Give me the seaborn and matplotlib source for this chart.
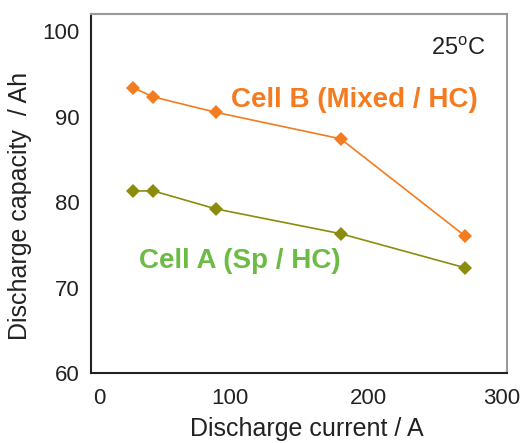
import matplotlib
matplotlib.use("Agg")
import matplotlib.pyplot as plt
import matplotlib.transforms as mtransforms
import seaborn as sns
import pandas as pd

current = [30, 45, 90, 180, 270]
cell_a = [81.3, 81.3, 79.2, 76.3, 72.3]
cell_b = [93.4, 92.3, 90.5, 87.4, 76.0]
series = ["Cell A (Sp / HC)", "Cell B (Mixed / HC)"]
x_ticks = [0, 100, 200, 300]
x_minor = [50, 150, 250]
y_ticks = [60, 70, 80, 90, 100]

sns.set_theme(style="white")
plt.rcParams['font.family'] = ['Liberation Sans', 'DejaVu Sans']

df = pd.DataFrame({
    "current": current * 2,
    "capacity": cell_a + cell_b,
    "cell": [series[0]] * len(current) + [series[1]] * len(current),
})

line_colors = {series[0]: "#8C8C0C", series[1]: "#F47B20"}
text_colors = {series[0]: "#6CBB45", series[1]: "#F47B20"}

fig = plt.figure(figsize=(5.22, 4.43), dpi=100)
ax = fig.add_axes([91/522, 1-373/443, (507-91)/522, (373-14)/443])

sns.lineplot(data=df, x="current", y="capacity", hue="cell", palette=line_colors,
             marker="D", markersize=7, markeredgewidth=0, linewidth=1.2,
             legend=False, ax=ax)

ax.set_xlim(0, 300)
ax.set_ylim(60, 102)
ax.set_xticks(x_ticks)
ax.set_xticks(x_minor, minor=True)
ax.set_yticks(y_ticks)
ax.tick_params(axis="both", which="both", direction="in", length=5, width=1.2,
               color="#333333", labelsize=16, labelcolor="#222222")
ax.tick_params(axis="x", pad=11)
ax.tick_params(axis="y", pad=8)

# nudge first/last x tick labels as in the reference
labels = ax.get_xticklabels()
offsets = [0.08, 0.0, 0.0, -0.05]
for lab, dx in zip(labels, offsets):
    lab.set_transform(lab.get_transform() +
                      mtransforms.ScaledTranslation(dx, 0, fig.dpi_scale_trans))

for s in ["left", "bottom"]:
    ax.spines[s].set_color("#222222")
    ax.spines[s].set_linewidth(1.5)
for s in ["top", "right"]:
    ax.spines[s].set_color("#999999")
    ax.spines[s].set_linewidth(1.5)

ax.set_xlabel("Discharge current / A", fontsize=18, color="#222222")
ax.set_ylabel("Discharge capacity  / Ah", fontsize=18, color="#222222")
ax.xaxis.set_label_coords(0.519, -0.122)
ax.yaxis.set_label_coords(-0.142, 0.465)

ax.text(190, 91.9, series[1], color=text_colors[series[1]], fontsize=20,
        fontweight="bold", ha="center", va="center")
ax.text(107, 73.1, series[0], color=text_colors[series[0]], fontsize=20,
        fontweight="bold", ha="center", va="center")
ax.text(265, 98.0, "25$^\\mathregular{o}$C", color="#222222", fontsize=17,
        ha="center", va="center")

fig.savefig("out.png", dpi=100)
